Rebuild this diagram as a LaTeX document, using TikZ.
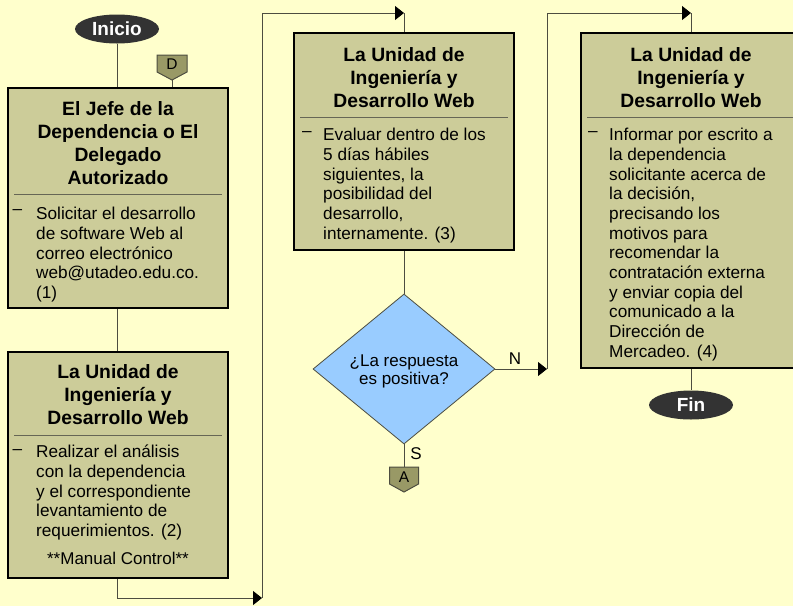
\documentclass[tikz,border=0pt]{standalone}
\usepackage{fontspec}
\setmainfont{Liberation Sans}
\usetikzlibrary{arrows.meta,shapes.geometric,calc}
\definecolor{bgcol}{HTML}{FFFFCC}
\definecolor{boxfill}{HTML}{CCCC99}
\definecolor{offfill}{HTML}{999966}
\definecolor{linecol}{HTML}{4D4D40}
\definecolor{sepcol}{HTML}{666655}
\definecolor{decfill}{HTML}{99CCFF}
\definecolor{termfill}{HTML}{333333}
\tikzset{
  box/.style={draw=black, line width=2pt, fill=boxfill, minimum width=220pt, inner sep=0pt},
  sepline/.style={draw=sepcol, line width=1pt},
  conn/.style={draw=linecol, line width=1pt},
  arr/.style={-{Triangle[length=9pt,width=14pt,color=black]}},
  term/.style={ellipse, fill=termfill, minimum width=84pt, minimum height=29pt, inner sep=0pt,
    text=white, font=\fontsize{19}{22}\selectfont\bfseries},
  title/.style={align=center, inner sep=0pt, font=\fontsize{19.3}{23}\selectfont\bfseries},
  body/.style={align=left, inner sep=0pt, anchor=north west, font=\fontsize{17.2}{19.7}\selectfont},
  bullet/.style={inner sep=0pt, anchor=base, font=\fontsize{17.2}{19.7}\selectfont},
  offshape/.style={fill=offfill, draw=linecol, line width=1pt},
  lbl/.style={inner sep=0pt, font=\fontsize{17}{20}\selectfont},
  cnlbl/.style={inner sep=0pt, font=\fontsize{15.5}{18}\selectfont},
  yn/.style={inner sep=0pt, font=\fontsize{17}{18}\selectfont},
  dec/.style={diamond, fill=decfill, draw=linecol, line width=0.8pt, minimum width=182pt,
    minimum height=150pt, inner sep=0pt},
  dectext/.style={inner sep=0pt, align=center, font=\fontsize{17}{18.5}\selectfont}
}
\begin{document}
\begin{tikzpicture}[x=1pt,y=-1pt]
\fill[bgcol] (0,0) rectangle (793,606);
\useasboundingbox (0,0) rectangle (793,606);
\clip (0,0) rectangle (793,606);

% terminals
\node[term] (ini) at (117,29) {Inicio};
\node[term] (fin) at (691,405) {Fin};

% boxes
\node[box, minimum height=220pt] (b1) at (118,198) {};
\node[box, minimum height=226pt] (b2) at (118,465) {};
\node[box, minimum height=217pt] (b3) at (404,141.5) {};
\node[box, minimum height=335pt] (b4) at (691,200.5) {};

% separators
\draw[sepline] (14,194) -- (222,194);
\draw[sepline] (14,435) -- (222,435);
\draw[sepline] (300,117) -- (508,117);
\draw[sepline] (587,117) -- (795,117);

% titles
\node[title] (t1) at (118,143) {El Jefe de la\\Dependencia o El\\Delegado\\Autorizado};
\node[title] (t2) at (118,395) {La Unidad de\\Ingeniería y\\Desarrollo Web};
\node[title] (t3) at (404,77.5) {La Unidad de\\Ingeniería y\\Desarrollo Web};
\node[title] (t4) at (691,77.5) {La Unidad de\\Ingeniería y\\Desarrollo Web};

% body texts
\node[bullet] (d1) at (17.5,214) {–};
\node[body] (x1) at (36,207) {Solicitar el desarrollo\\de software Web al\\correo electrónico\\web@utadeo.edu.co.\\(1)};
\node[bullet] (d2) at (17.5,454.5) {–};
\node[body] (x2) at (36,445) {Realizar el análisis\\con la dependencia\\y el correspondiente\\levantamiento de\\requerimientos. (2)};
\node[lbl] (mc) at (118,558) {**Manual Control**};
\node[bullet] (d3) at (307,136) {–};
\node[body] (x3) at (323,128) {Evaluar dentro de los\\5 días hábiles\\siguientes, la\\posibilidad del\\desarrollo,\\internamente. (3)};
\node[bullet] (d4) at (593,136) {–};
\node[body] (x4) at (609,128) {Informar por escrito a\\la dependencia\\solicitante acerca de\\la decisión,\\precisando los\\motivos para\\recomendar la\\contratación externa\\y enviar copia del\\comunicado a la\\Dirección de\\Mercadeo. (4)};

% decision
\node[dec] (q) at (404,369) {};
\node[dectext] (qt) at (404,371.5) {¿La respuesta\\es positiva?};

% off-page connectors
\path[offshape] (157,55) -- (187,55) -- (187,72) -- (172,80) -- (157,72) -- cycle;
\node[cnlbl] (D) at (172,64) {D};
\coordinate (Dtip) at (172,80);
\path[offshape] (389.5,467) -- (418.5,467) -- (418.5,484) -- (404,492) -- (389.5,484) -- cycle;
\node[cnlbl] (A) at (404,477) {A};
\coordinate (Atop) at (404,467);

% routing points
\coordinate (c1) at (262,598);
\coordinate (c2) at (404,13);
\coordinate (c3) at (547,369);
\coordinate (c4) at (691,13);

% connectors
\draw[conn] (ini.south) -- (ini.south |- b1.north);
\draw[conn] (Dtip) -- (Dtip |- b1.north);
\draw[conn] (b1.south -| ini.south) -- (ini.south |- b2.north);
\draw[conn,arr] (b2.south -| ini.south) |- (c1);
\draw[conn,arr] (c1) |- (c2);
\draw[conn] (c2) -- (b3.north);
\draw[conn] (b3.south) -- (q.north);
\draw[conn,arr] (q.east) -- (c3);
\draw[conn,arr] (c3) |- (c4);
\draw[conn] (c4) -- (b4.north);
\draw[conn] (b4.south) -- (fin.north);
\draw[conn] (q.south) -- (Atop);

% branch labels
\node[yn] (nl) at (515,359) {N};
\node[yn] (sl) at (416,454) {S};
\end{tikzpicture}
\end{document}
